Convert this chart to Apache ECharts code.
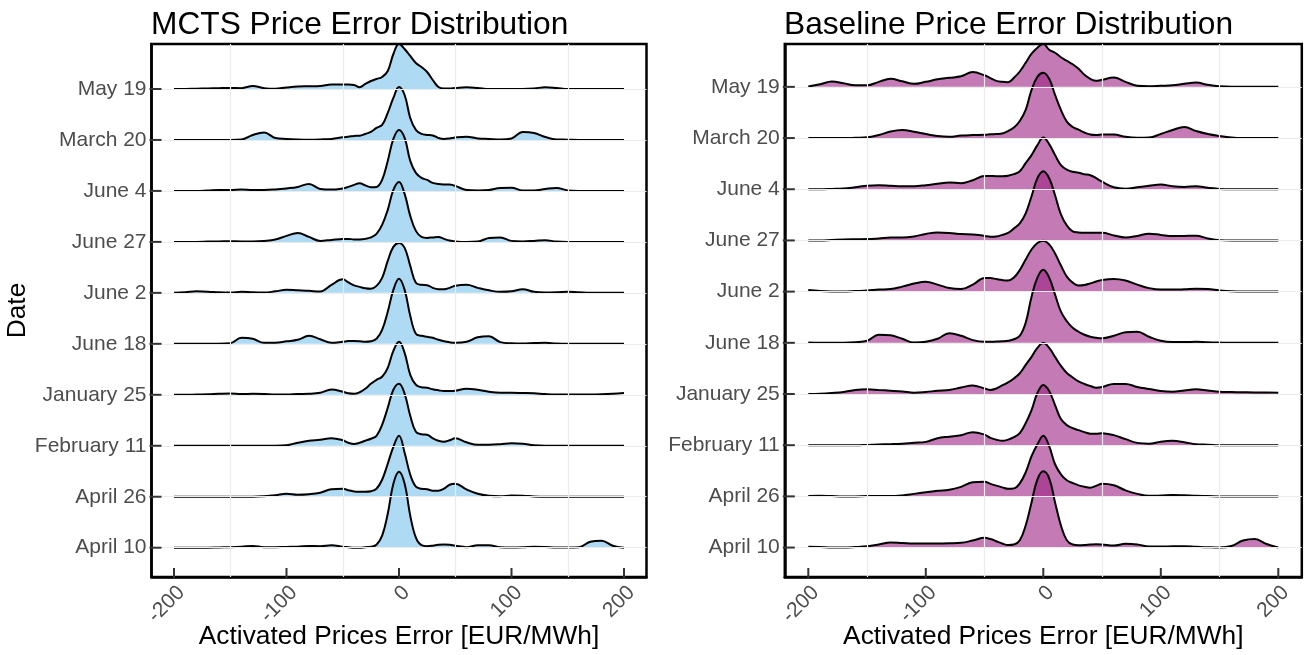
<!DOCTYPE html>
<html>
<head>
<meta charset="utf-8">
<script src="https://cdn.jsdelivr.net/npm/echarts@6/dist/echarts.min.js"></script>
<style>html,body{margin:0;padding:0;background:#fff}#c{width:1309px;height:655px}</style>
</head>
<body>
<div id="c"></div>
<script>
// Ridge rows, bottom (index 0) to top (index 9)
const dates = ['April 10','April 26','February 11','January 25','June 18','June 2','June 27','June 4','March 20','May 19'];
// Error grid (EUR/MWh) at which the densities were read
const xGrid = [-200,-190,-180,-170,-160,-150,-140,-130,-120,-110,-100,-90,-80,-70,-60,-50,
  -45,-40,-35,-30,-25,-20,-15,-10,-5,0,5,10,15,20,25,30,35,40,45,
  50,60,70,80,90,100,110,120,130,140,150,160,170,180,190,200];
const xTicks = [-200,-100,0,100,200];
const xMinorGrid = [-150,-50,50,150];

// MCTS densities (scaled units; 51 = one row)
const mctsMay19 = [0,0,0.3,0.5,0.8,1,0.8,3,0.8,0.2,1.5,2.5,2.7,3,4.5,4.5, 4.5,4,1.7,5,8,10,12,18,35,45,40,33,26,22,17,9,2,0.5,0.5, 1,1.7,1,0,0,0,0,0.5,1.7,1,0,0,0,0,0,0];
const mctsMar20 = [0,0,0,0,0,0,0.5,5,7.5,2,1,0.5,0.3,0.5,1,2.7, 3.3,4,4.3,6,8,12,15,27,42,53,45,22,10,6,5,4.5,2,1,1.5, 2.5,3.3,1.5,1,0.5,1.5,8,7,3,0.5,0.3,0,0,0,0,0];
const mctsJun4  = [0,0,0,0.5,1,1,1.5,1,1,1.5,2.5,4,7,2,1.3,2.5, 4,6,7.7,5.5,3.7,4,11,30,52,61,53,30,18,13,11,8,7,6.5,6.3, 5,1,0.5,1,3,3.2,0.5,0.5,2,3,0.5,0,0,0,0,0];
const mctsJun27 = [0,0,0,0.3,0.5,0.7,0.5,0.5,1,2.3,6,9,5,1,2,3, 3,2.5,2.5,3,4.5,8,17,32,52,60,48,26,11,5,4,4.5,5,3,1.3, 0.5,0,0.3,4,4.5,1,0.5,1,1.7,0.3,0,0,0,0,0,0];
const mctsJun2  = [0,0.5,1.5,1.2,0.5,0.3,1,0.5,0.3,1.5,3,2.5,2,1.3,8,13.5, 10.5,7.5,6,4.5,4,7,15,32,46,50,45,27,10,8,7.7,5,3.7,3.7,5, 7,8,5,2.5,1,1.5,3.7,1,0.3,0.5,1,0.5,0,0,0,0];
const mctsJun18 = [0,0,0,0,0,0.5,6,5,1,1,2.5,4,8,4.5,1,2, 2.7,2.7,2.5,2,2.5,5,14,32,54,65,54,28,10,8,7,6,4,2.5,1.5, 1,2,6.5,7.5,1.7,0.5,0.3,0.7,1,0.3,0,0,0,0,0,0];
const mctsJan25 = [0,0,0.3,0.5,1,1.3,0.8,1,0.8,0.3,0.3,0.8,1,2,5.3,3, 1.5,1,2.5,6,11,15,18,27,44,53,42,20,10,7.5,7,5.5,4.5,3.7,3.7, 4,6,5,3,2,2,1.8,1.5,0.7,0.3,0.3,0.3,0.3,0.5,1,1.7];
const mctsFeb11 = [0,0,0,0,0,0,0,0,0,0,0.5,3,5,6,7.5,5.5, 3,1.8,3,5,7,10,21,38,56,62,52,30,14,11.5,11,7.5,5,4,5.5, 7.5,3.5,1,1,1.5,2.5,2,0.5,0,0,0,0,0,0,0,0];
const mctsApr26 = [0,0,0,0,0,0,0,0,0.5,1.5,3,2,2.5,4,7.5,8, 6.5,5.3,5,5,5.5,8,17,33,50,61,44,22,10,8,7.5,6,6,8,12, 13,7.3,3,1,0.5,1.2,1,0.3,0,0,0,0,0,0,0,0];
const mctsApr10 = [0,0,0,0,0.3,0.5,1,1.7,0.5,0.5,0.8,1,1.7,1.5,2.5,1, 0.5,0,0,0.5,1,3,12,34,64,76,64,32,10,2.5,1.5,2,3,3.3,3, 2,0.5,2.5,2.5,0.5,0.3,0.5,1,0.8,0.3,0.3,0.5,6,7,2,0];

// Baseline densities (scaled units; 51 = one row)
const baseMay19 = [0.3,2.5,5.3,3.5,1.5,1.5,5,8,5.5,3,5,7.5,9,10.5,14.7,11.5, 8.7,6,5,4.7,9,15.3,24,33,39,42.7,37,34,29.5,26,22.5,18,12,8,6, 7,9.3,5,1,0.5,1,1.5,3,4.3,2,0.5,0,0,0,0,0];
const baseMar20 = [0,0,0,0,0.3,0.7,3,6.5,8,6.3,4,2,1.3,2.5,3,3.3, 3.7,4,4.5,7,10.5,17,28,48,61,65,59,43,28,16.3,11,8.3,5.5,3.5,3, 3.5,3.5,1.2,0.3,0.5,4,8,11,7,4,2,0.5,0,0,0,0];
const baseJun4  = [0,0,0.3,0.7,2,3.5,4,3.5,3,3,4,5.5,6.7,6,9,13.3, 13.3,13,13,13.5,15,18,26,34,44,51.5,45,34,24,19.5,17.5,16.5,15,14,11, 7.5,2,0.5,2,3.5,4.7,3,2.3,3,1.5,0.3,0,0,0,0,0];
const baseJun27 = [0,0,0.5,1,1.2,1.3,2,3,3,4,6.5,8,7.5,6.3,6,4.5, 3.7,4,5.5,7.5,12,17,27,44,62,69,62,45,26,15,9,8,7.7,7.7,7.7, 7.7,5,3,4.5,6.7,5.5,4.3,4.5,4.7,2,0.3,0,0,0,0,0];
const baseJun2  = [1.5,0.7,0.2,0,0.5,1,2,2.5,5,8,9.8,7,3.5,2.5,7,13.5, 13.5,12.5,11.5,11,14,21.5,32,42,48.5,50.8,47,38,26,15,9,6,6.5,8.2,10, 11.5,12.5,11,7,3.5,2,2,2.3,2.8,2.5,1.2,0.3,0,0,0,0];
const baseJun18 = [0.3,0,0,0,0.5,2,8,7.5,4,0.3,1,4,9.5,7,2.7,1, 1,1.3,1.5,2,3.5,7,20,46,65,72.7,65,48,31,21.5,15,11,8,6,5, 4.5,7,10.5,11,6,2,0.7,0.7,1,0.5,0.2,0,0,0,0,0];
const baseJan25 = [0,0.3,1,2,4,4.7,4,3.3,2.5,1.3,2,3.2,4,6.5,8.5,5.5, 4,5.5,8.5,11.5,15.5,20.7,29,37,46,50.7,46,37,28,21,16.5,12.5,10,8,6.3, 7,10,10,7,5,3,2.3,3.5,4.7,3.5,2.3,2,1.7,1.5,1.5,1.3];
const baseFeb11 = [0,0,0,0,0,0.3,0.7,1,1.5,2.5,3.3,7,8.5,10,13,10.5, 7.3,5.5,4.3,5.5,8,12,22,35,52,60,54,40,26,20,17,15,13,11.5,11.5, 12,10,6,2.3,1.5,3.5,4.3,3,1,0.5,0,0,0,0,0,0];
const baseApr26 = [0.3,0.7,0.3,0,0,0.3,0.3,0.3,1,2.5,4,5.5,6.5,9.5,14,14.5, 12.5,10.7,9,7.5,8,13,24,40,52,60.3,50,32,22,16,13.3,11,9.5,8.7,10.5, 12.5,11,6,2.5,0.5,0.8,1.3,1,0.5,0.3,0,0,0,0,0,0];
const baseApr10 = [0.7,0.5,0,0,0.5,1.3,3,5,4.5,4,4,4,4.2,4.7,7,9.7, 8.5,6.3,4,2.5,3,7.3,22,45,68,76,69,45,22,7.3,3,2.3,2.5,3,3.3, 3,2,3.7,3,1,1,1.2,1.3,0.8,0.3,0,1.5,7,8.5,3.5,0];

const mctsRidges = [mctsApr10,mctsApr26,mctsFeb11,mctsJan25,mctsJun18,mctsJun2,mctsJun27,mctsJun4,mctsMar20,mctsMay19];
const baseRidges = [baseApr10,baseApr26,baseFeb11,baseJan25,baseJun18,baseJun2,baseJun27,baseJun4,baseMar20,baseMay19];

const ROW = 51;          // density units per row
const X_MIN = -220, X_MAX = 220;
const Y_MIN = -0.575;
const FONT = 'Liberation Sans, Arial, Helvetica, sans-serif';
const rowIdx = dates.map((d, i) => i);

function yMaxOf(ridges) {
  let m = 0;
  ridges.forEach((h, i) => { m = Math.max(m, i + Math.max(...h) / ROW); });
  return m;
}
const yMax = [yMaxOf(mctsRidges), yMaxOf(baseRidges)];

function xAxisFor(gi) {
  return {
    type: 'value', gridIndex: gi, min: X_MIN, max: X_MAX, position: 'bottom',
    axisLine: { show: true, onZero: false, lineStyle: { color: '#000', width: 2.5 } },
    axisTick: { show: false },
    axisLabel: { customValues: xTicks, rotate: 45, margin: 5, verticalAlign: 'top', color: '#4d4d4d', fontSize: 21, fontFamily: FONT,
      formatter: v => String(v) },
    splitLine: { show: false },
    name: 'Activated Prices Error [EUR/MWh]',
    nameLocation: 'middle', nameGap: 47, nameMoveOverlap: false,
    nameTextStyle: { fontSize: 26.3, color: '#000', fontFamily: FONT, verticalAlign: 'top' }
  };
}
function yAxisFor(gi, withName) {
  return {
    type: 'value', gridIndex: gi, min: Y_MIN, max: yMax[gi], position: 'left',
    axisLine: { show: true, onZero: false, lineStyle: { color: '#000', width: 2.5 } },
    axisTick: { show: false },
    axisLabel: { customValues: rowIdx, margin: 5, color: '#4d4d4d', fontSize: 21, fontFamily: FONT,
      formatter: v => dates[Math.round(v)] },
    splitLine: { show: false },
    name: withName ? 'Date' : '',
    nameLocation: 'middle', nameRotate: 90, nameGap: 121,
    nameTextStyle: { fontSize: 26.3, color: '#000', fontFamily: FONT }
  };
}
function gridLines(gi) {
  return {
    type: 'line', xAxisIndex: gi, yAxisIndex: gi, data: [], z: 1, silent: true,
    markLine: {
      silent: true, symbol: ['none', 'none'], animation: false,
      label: { show: false },
      lineStyle: { color: '#ebebeb', width: 1.2, type: 'solid' },
      data: xMinorGrid.map(v => ({ xAxis: v })).concat(rowIdx.map(v => ({ yAxis: v })))
    }
  };
}
// axis tick marks as points on the plot edges: [x, y, kind]; kind 0 = bottom edge, 1 = left edge
function tickMarks(gi) {
  const data = xTicks.map(v => [v, Y_MIN, 0]).concat(rowIdx.map(v => [X_MIN, v, 1]));
  return {
    type: 'custom', xAxisIndex: gi, yAxisIndex: gi, z: 6, silent: true, clip: false,
    dimensions: ['x', 'y', 'kind'],
    encode: { x: 0, y: 1 },
    data: data,
    renderItem: function (params, api) {
      const p = api.coord([api.value(0), api.value(1)]);
      const kind = api.value(2);
      const shape = kind === 0
        ? { x1: p[0], y1: p[1] + 1, x2: p[0], y2: p[1] - 9 }
        : { x1: p[0] - 2, y1: p[1], x2: p[0] + 10, y2: p[1] };
      return { type: 'line', shape: shape, style: { stroke: '#333', lineWidth: 2 } };
    }
  };
}
function ridgeSeries(gi, ridges, fill) {
  const out = [];
  for (let i = ridges.length - 1; i >= 0; i--) {
    const h = ridges[i];
    out.push({
      name: dates[i], type: 'line', xAxisIndex: gi, yAxisIndex: gi, z: 2,
      smooth: 0.4, symbol: 'none', showSymbol: false,
      data: xGrid.map((x, k) => [x, i + h[k] / ROW]),
      lineStyle: { color: '#000', width: 2 },
      areaStyle: { color: fill, opacity: 1, origin: i }
    });
  }
  return out;
}

const gridBase = { top: 44, height: 533, show: true, borderColor: '#000', borderWidth: 2.5,
  backgroundColor: 'transparent', containLabel: false, outerBoundsMode: 'none' };

const chart = echarts.init(document.getElementById('c'), null, { renderer: 'canvas' });
chart.setOption({
  animation: false,
  backgroundColor: '#fff',
  textStyle: { fontFamily: FONT },
  title: [
    { text: 'MCTS Price Error Distribution', left: 151, top: 9, padding: 0,
      textStyle: { fontSize: 31.7, fontWeight: 'normal', color: '#000', fontFamily: FONT } },
    { text: 'Baseline Price Error Distribution', left: 784, top: 9, padding: 0,
      textStyle: { fontSize: 31.7, fontWeight: 'normal', color: '#000', fontFamily: FONT } }
  ],
  grid: [
    Object.assign({ left: 151.5, width: 495 }, gridBase),
    Object.assign({ left: 784.8, width: 517 }, gridBase)
  ],
  xAxis: [xAxisFor(0), xAxisFor(1)],
  yAxis: [yAxisFor(0, true), yAxisFor(1, false)],
  series: [gridLines(0), gridLines(1)]
    .concat(ridgeSeries(0, mctsRidges, 'rgba(120,195,235,0.6)'))
    .concat(ridgeSeries(1, baseRidges, 'rgba(157,33,130,0.6)'))
    .concat([tickMarks(0), tickMarks(1)])
});
</script>
</body>
</html>
